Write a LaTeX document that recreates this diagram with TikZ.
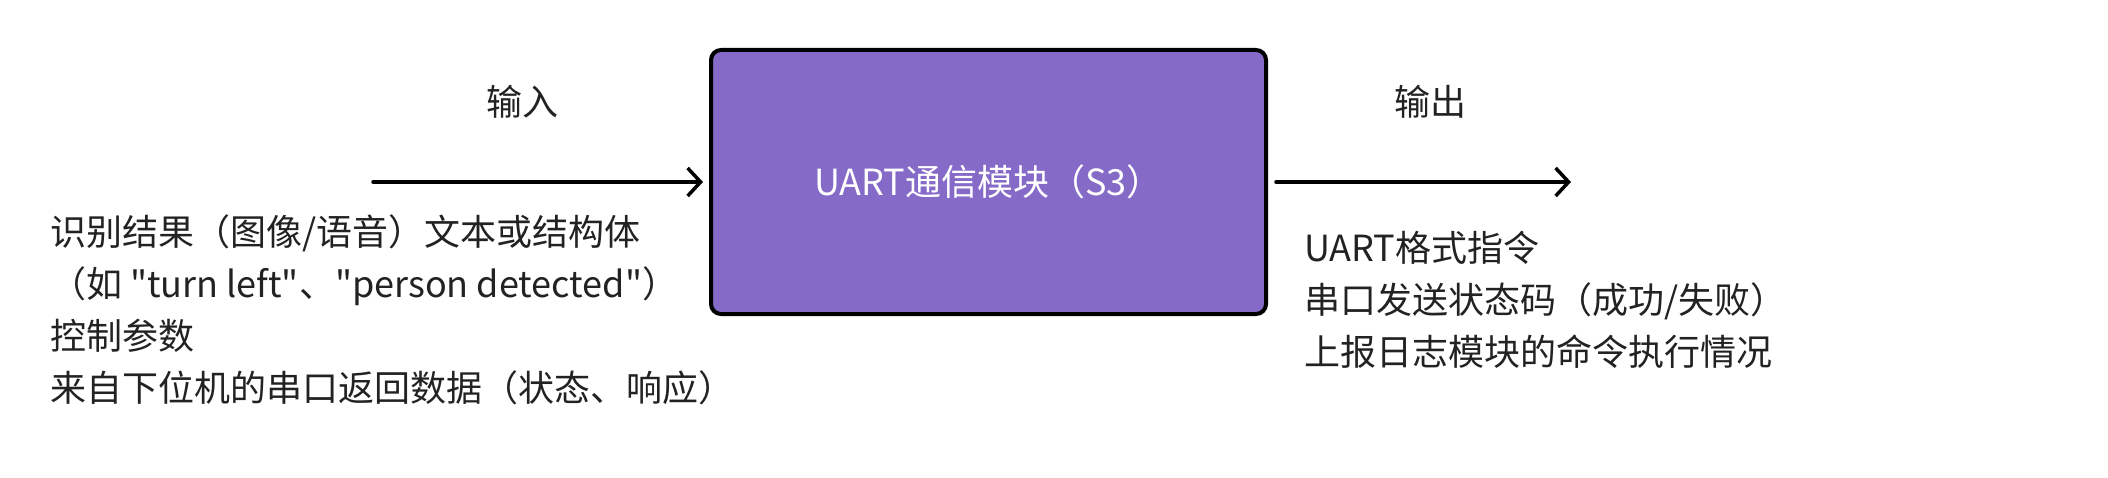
\documentclass[tikz,border=0pt]{standalone}
\usepackage{fontspec}
\newfontfamily\cjkfont{Noto Sans CJK SC}
\usetikzlibrary{arrows.meta}
\definecolor{boxfill}{HTML}{866AC8}
\definecolor{txt}{HTML}{222222}
\tikzset{
  lbl/.style={inner sep=0pt, outer sep=0pt, text=txt, font=\cjkfont\fontsize{36}{52}\selectfont},
  blk/.style={lbl, align=left, anchor=base west},
  modbox/.style={draw=black, line width=4pt, fill=boxfill, rounded corners=10pt,
    minimum width=555pt, minimum height=264pt, inner sep=0pt,
    text=white, font=\cjkfont\fontsize{36}{44}\selectfont},
  flow/.style={line width=3.5pt, line cap=round, -{Straight Barb[length=13pt, width=28pt, line width=3.5pt]}}
}
\begin{document}
\begin{tikzpicture}[x=1pt, y=-1pt]
\useasboundingbox (0,0) rectangle (2108,478);
\node[modbox] (mod) at (988.5,182) {UART通信模块（S3）};
\coordinate (inStart) at (373,182);
\coordinate (outEnd) at (1571,182);
\draw[flow, shorten >=6pt] (inStart) -- (mod.west);
\draw[flow, shorten <=8pt] (mod.east) -- (outEnd);
\node[lbl] (inLbl) at (522,102) {输入};
\node[lbl] (outLbl) at (1430,102) {输出};
\node[blk] (inText) at (50,401) {识别结果（图像/语音）文本或结构体\\（如 "turn left"、"person detected"）\\控制参数\\来自下位机的串口返回数据（状态、响应）};
\node[blk] (outText) at (1304,365) {UART格式指令\\串口发送状态码（成功/失败）\\上报日志模块的命令执行情况};
\end{tikzpicture}
\end{document}
